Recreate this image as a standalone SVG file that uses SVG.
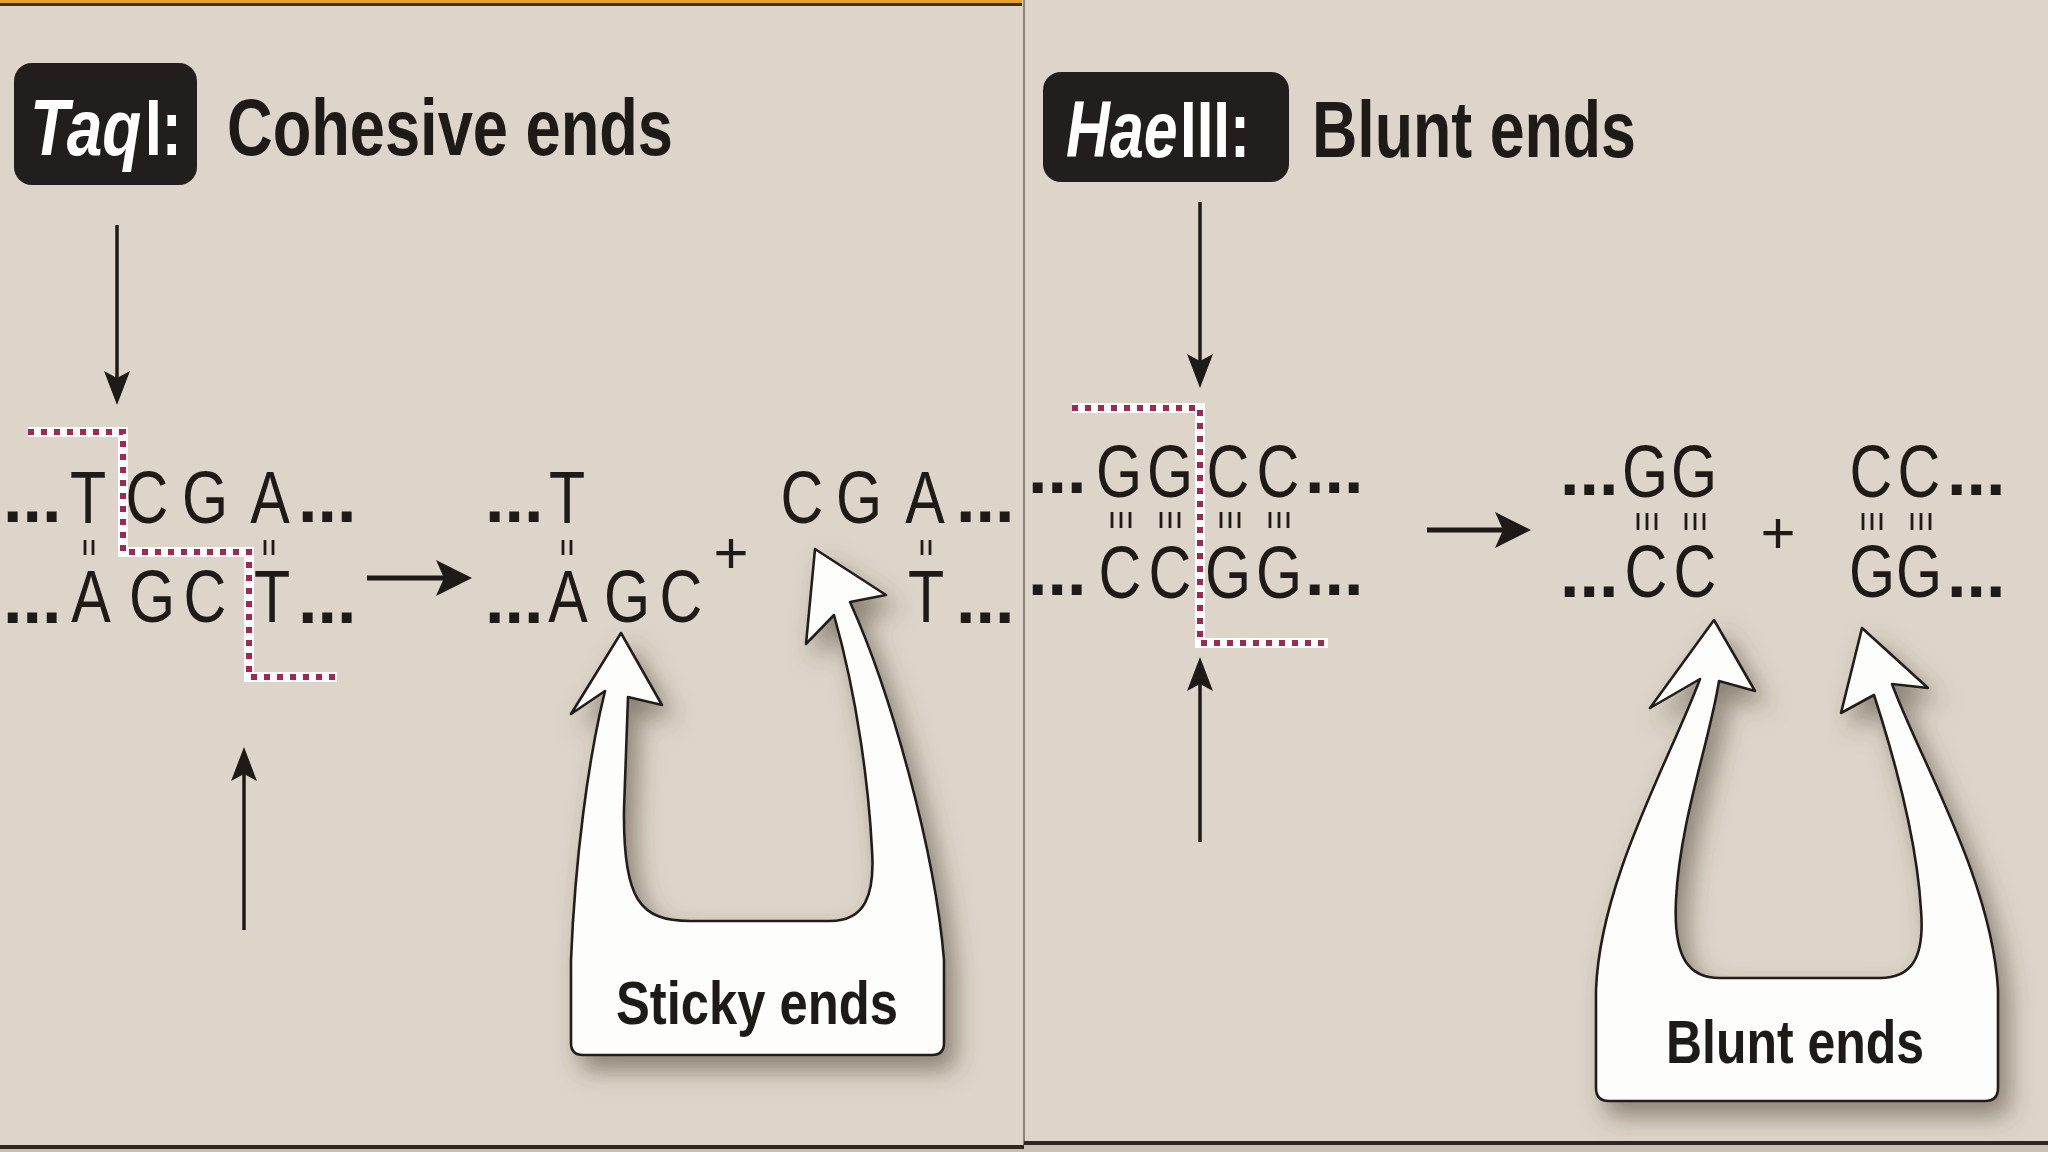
<svg xmlns="http://www.w3.org/2000/svg" width="2048" height="1152" viewBox="0 0 2048 1152">
  <defs>
    <style>
      .bg { fill: #ddd5c9; }
      .title { font-family: "Liberation Sans", Arial, sans-serif; font-weight: bold; font-size: 80px; fill: #1e1a18; }
      .tag { font-family: "Liberation Sans", Arial, sans-serif; font-weight: bold; font-size: 80px; fill: #ffffff; }
      .tagbox { fill: #221e1d; }
      .nt { font-family: "Liberation Sans", Arial, sans-serif; font-size: 74px; fill: #1e1a18; text-anchor: middle; }
      .dots { font-family: "Liberation Sans", Arial, sans-serif; font-weight: bold; font-size: 70px; fill: #1e1a18; }
      .plus { font-family: "Liberation Sans", Arial, sans-serif; font-size: 60px; fill: #1e1a18; text-anchor: middle; }
      .tick { stroke: #1e1a18; stroke-width: 2.8; fill: none; }
      .cutwhite { stroke: #ffffff; stroke-width: 10; fill: none; stroke-linejoin: miter; }
      .cutred { stroke: #a3284f; stroke-width: 6; fill: none; stroke-dasharray: 6 7; }
      .thin { stroke: #1e1a18; stroke-width: 3.5; fill: none; }
      .thick { stroke: #1e1a18; stroke-width: 5; fill: none; }
      .callout { fill: #fdfdfb; stroke: #231f1c; stroke-width: 2.6; stroke-linejoin: round; }
      .clabel { font-family: "Liberation Sans", Arial, sans-serif; font-weight: bold; font-size: 62px; fill: #1e1a18; text-anchor: middle; }
    </style>
    <marker id="headThin" markerUnits="userSpaceOnUse" viewBox="0 -15 40 30" markerWidth="40" markerHeight="30" refX="8" refY="0" orient="auto">
      <path d="M0,-13 L34,0 L0,13 L7,0 Z" fill="#1e1a18"/>
    </marker>
    <marker id="headThick" markerUnits="userSpaceOnUse" viewBox="0 -20 40 40" markerWidth="40" markerHeight="40" refX="10" refY="0" orient="auto">
      <path d="M0,-18 L36,0 L0,18 L8,0 Z" fill="#1e1a18"/>
    </marker>
    <filter id="shadow" x="-20%" y="-20%" width="150%" height="150%">
      <feDropShadow dx="10" dy="14" stdDeviation="12" flood-color="#4a3c30" flood-opacity="0.55"/>
    </filter>
  </defs>

  <!-- panels -->
  <rect class="bg" x="0" y="0" width="2048" height="1152"/>
  <rect x="0" y="0" width="1022" height="3" fill="#e8a030"/>
  <rect x="0" y="3" width="1022" height="3" fill="#3b3128"/>
  <line x1="1024" y1="0" x2="1024" y2="1146" stroke="#8c857b" stroke-width="2"/>
  <rect x="0" y="1145" width="1024" height="4" fill="#2e2620"/>
  <rect x="1024" y="1141" width="1024" height="4" fill="#2e2620"/>
  <rect x="0" y="1149" width="2048" height="3" fill="#c9c0b3"/>
  <rect x="1024" y="1145" width="1024" height="4" fill="#c9c0b3"/>

  <!-- Title labels -->
  <g id="taqi-title">
    <rect class="tagbox" x="14" y="63" width="183" height="122" rx="18"/>
    <text class="tag" transform="translate(30 155) scale(0.8 1)" font-style="italic">Taq</text>
    <text class="tag" transform="translate(145 155) scale(0.75 1)">I:</text>
    <text class="title" x="227" y="155" textLength="446" lengthAdjust="spacingAndGlyphs">Cohesive ends</text>
  </g>
  <g id="haeiii-title">
    <rect class="tagbox" x="1043" y="72" width="246" height="110" rx="18"/>
    <text class="tag" transform="translate(1066 157) scale(0.76 1)" font-style="italic">Hae</text>
    <text class="tag" transform="translate(1180 157) scale(0.75 1)">III:</text>
    <text class="title" x="1312" y="157" textLength="324" lengthAdjust="spacingAndGlyphs">Blunt ends</text>
  </g>

  <!-- TaqI site -->
  <g id="taqi-site">
    <path class="cutwhite" d="M28,432 H123 V552 H249 V677 H337"/>
    <path class="cutred" d="M28,432 H123 V552 H249 V677 H337"/>
    <g transform="scale(0.8 1)">
      <text class="nt" x="110 183.75 256.25 337.5" y="523">TCGA</text>
      <text class="nt" x="113.75 190 256.25 340" y="622">AGCT</text>
    </g>
    <text class="dots" x="3" y="522">...</text>
    <text class="dots" x="298" y="522">...</text>
    <text class="dots" x="3" y="623">...</text>
    <text class="dots" x="298" y="623">...</text>
    <path class="tick" d="M85,540 V555 M93,540 V555 M265,540 V555 M273,540 V555"/>
  </g>

  <!-- TaqI products -->
  <g id="taqi-products">
    <g transform="scale(0.8 1)">
      <text class="nt" x="708.75" y="523">T</text>
      <text class="nt" x="710 783.75 851.25" y="622">AGC</text>
      <text class="nt" x="1002.5 1073.75 1156.25" y="523">CGA</text>
      <text class="nt" x="1157.5" y="622">T</text>
    </g>
    <text class="dots" x="485" y="522">...</text>
    <text class="dots" x="485" y="623">...</text>
    <text class="dots" x="956" y="522">...</text>
    <text class="dots" x="956" y="623">...</text>
    <path class="tick" d="M563,540 V555 M571,540 V555 M922,540 V555 M930,540 V555"/>
    <text class="plus" x="731" y="573">+</text>
  </g>

  <!-- HaeIII site -->
  <g id="haeiii-site">
    <path class="cutwhite" d="M1072,408 H1200 V643 H1328"/>
    <path class="cutred" d="M1072,408 H1200 V643 H1328"/>
    <g transform="scale(0.8 1)">
      <text class="nt" x="1398.75 1462.5 1535 1597.5" y="497">GGCC</text>
      <text class="nt" x="1400 1462.5 1535 1598.75" y="598">CCGG</text>
    </g>
    <text class="dots" x="1028" y="493">...</text>
    <text class="dots" x="1305" y="493">...</text>
    <text class="dots" x="1028" y="595">...</text>
    <text class="dots" x="1305" y="595">...</text>
    <path class="tick" d="M1112,512 V528 M1121,512 V528 M1130,512 V528 M1161,512 V528 M1170,512 V528 M1179,512 V528 M1221,512 V528 M1230,512 V528 M1239,512 V528 M1270,512 V528 M1279,512 V528 M1288,512 V528"/>
  </g>

  <!-- HaeIII products -->
  <g id="haeiii-products">
    <g transform="scale(0.8 1)">
      <text class="nt" x="2056.25 2117.5" y="497">GG</text>
      <text class="nt" x="2057.5 2118.75" y="597">CC</text>
      <text class="nt" x="2338.75 2398.75" y="497">CC</text>
      <text class="nt" x="2340 2398.75" y="597">GG</text>
    </g>
    <text class="dots" x="1560" y="495">...</text>
    <text class="dots" x="1560" y="597">...</text>
    <text class="dots" x="1947" y="495">...</text>
    <text class="dots" x="1947" y="597">...</text>
    <path class="tick" d="M1638,513 V530 M1647,513 V530 M1656,513 V530 M1686,513 V530 M1695,513 V530 M1704,513 V530 M1863,513 V530 M1872,513 V530 M1881,513 V530 M1912,513 V530 M1921,513 V530 M1930,513 V530"/>
    <text class="plus" x="1778" y="553">+</text>
  </g>

  <!-- Callouts -->
  <g id="sticky-callout">
    <path class="callout" filter="url(#shadow)" d="M621,633 L662,705 L628,697 L624,810 C623,900 640,921 690,921 L830,921 C865,921 875,895 872,850 C869,790 858,700 834,615 L806,644 L815,549 L886,595 L850,602 C890,690 935,850 944,960 L944,1043 Q944,1055 932,1055 L583,1055 Q571,1055 571,1043 L571,960 C575,860 588,760 605,691 L571,714 Z"/>
    <text class="clabel" x="757" y="1024" textLength="282" lengthAdjust="spacingAndGlyphs">Sticky ends</text>
  </g>
  <g id="blunt-callout">
    <path class="callout" filter="url(#shadow)" d="M1714,620 L1755,691 L1719,681 C1710,740 1680,820 1676,900 C1673,960 1690,978 1720,978 L1880,978 C1910,978 1925,960 1921,910 C1917,840 1895,760 1874,695 L1841,713 L1862,628 L1928,688 L1892,684 C1920,760 1992,880 1998,990 L1998,1088 Q1998,1101 1985,1101 L1609,1101 Q1596,1101 1596,1088 L1596,990 C1600,880 1670,760 1700,679 L1650,708 Z"/>
    <text class="clabel" x="1795" y="1063" textLength="258" lengthAdjust="spacingAndGlyphs">Blunt ends</text>
  </g>

  <!-- Connectors -->
  <g id="connectors">
    <line class="thin" x1="117" y1="225" x2="117" y2="379" marker-end="url(#headThin)"/>
    <line class="thin" x1="244" y1="930" x2="244" y2="773" marker-end="url(#headThin)"/>
    <line class="thin" x1="1200" y1="202" x2="1200" y2="362" marker-end="url(#headThin)"/>
    <line class="thin" x1="1200" y1="842" x2="1200" y2="683" marker-end="url(#headThin)"/>
    <line class="thick" x1="367" y1="578" x2="446" y2="578" marker-end="url(#headThick)"/>
    <line class="thick" x1="1427" y1="530" x2="1505" y2="530" marker-end="url(#headThick)"/>
  </g>
</svg>
